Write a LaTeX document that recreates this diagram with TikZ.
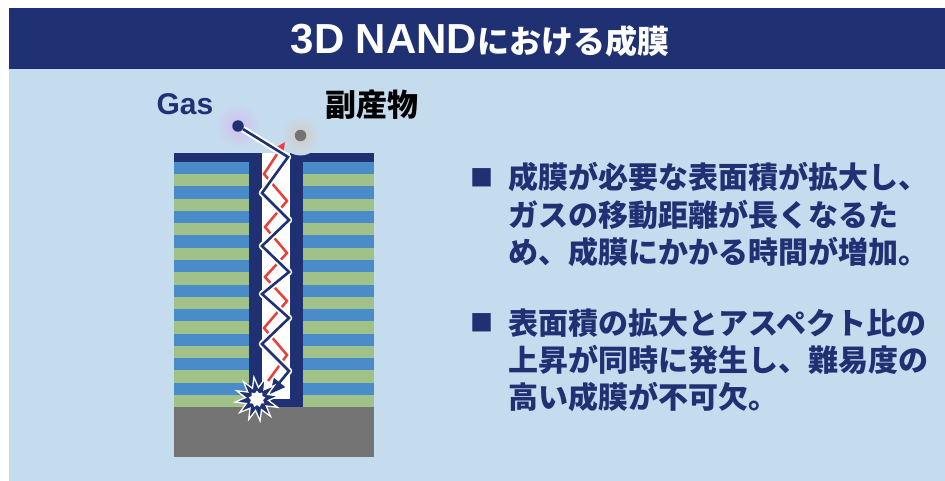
\documentclass[tikz,border=0pt]{standalone}
\usepackage{fontspec}
\setmainfont{Liberation Sans}
\newfontfamily\jp{Noto Sans CJK JP}
\usetikzlibrary{arrows.meta, positioning, shapes.geometric}
\definecolor{navy}{RGB}{31,49,115}
\definecolor{panelblue}{RGB}{197,219,238}
\definecolor{layerblue}{RGB}{74,139,202}
\definecolor{layergreen}{RGB}{160,194,136}
\definecolor{substrate}{RGB}{116,116,116}
\definecolor{flowred}{RGB}{236,62,58}
\definecolor{gasglow}{RGB}{210,190,236}
\definecolor{byglow}{RGB}{210,204,194}

\begin{document}
\begin{tikzpicture}[x=1pt, y=-1pt,
    txt/.style={inner sep=0pt, anchor=base west, text=navy,
      font=\jp\bfseries\fontsize{30}{36}\selectfont},
    bullet/.style={inner sep=0pt, text=navy, font=\jp\fontsize{23}{23}\selectfont},
    dot/.style={circle, inner sep=0pt, minimum size=11.5pt},
    gasline/.style={draw=navy, line width=2.6pt,
      preaction={draw=white, line width=6.5pt, line join=round},
      -{Triangle[length=15pt, width=14pt]}},
    outline/.style={draw=flowred, line width=2.5pt,
      -{Triangle[length=10pt, width=9pt]}}]
  \useasboundingbox (0,0) rectangle (945,481);
  % panel and title bar
  \fill[panelblue] (9,8) rectangle (945,481);
  \fill[navy] (9,8) rectangle (945,69);
  \node[inner sep=0pt, anchor=base, text=white] (title) at (480,54)
    {\bfseries\fontsize{42}{42}\selectfont 3D NAND\jp\fontsize{32}{32}\selectfont における成膜};

  % film stack with the deep hole
  \foreach \i [evaluate=\i as \y using 162+24.5*\i] in {0,...,9} {
    \fill[layerblue] (174,\y) rectangle (374,\y+12.25);
    \fill[layergreen] (174,\y+12.25) rectangle (374,\y+24.5);
  }
  \fill[navy] (174,153) rectangle (374,162);
  \fill[substrate] (174,407) rectangle (374,457);
  \fill[navy] (249,153) rectangle (303,407);
  \fill[white] (262,153) rectangle (290,399);

  % gas and by-product
  \shade[inner color=gasglow, outer color=panelblue] (238,126) circle (22pt);
  \shade[inner color=byglow, outer color=panelblue] (300.5,135.5) circle (20pt);
  \node[dot, fill=navy] (gas) at (238,126) {};
  \node[dot, fill=substrate] (byprod) at (300.5,135.5) {};
  \node[inner sep=0pt, anchor=base, text=navy, font=\bfseries\fontsize{30}{30}\selectfont]
    (gaslbl) at (185,114.5) {Gas};
  \node[inner sep=0pt, anchor=base, font=\jp\bfseries\fontsize{31}{31}\selectfont]
    (bylbl) at (372,117) {副産物};

  % by-product going out, gas going down
  \coordinate (exit) at (285,142);
  \coordinate (hit) at (270,394);
  \draw[outline] (268,381) -- (287,355) -- (264,328) -- (287,301) -- (265,277)
    -- (287,253) -- (265,227) -- (287,201) -- (264,174) -- (exit);
  \draw[gasline] (gas) -- (288,157) -- (262,193) -- (289,220) -- (262,246)
    -- (289,272) -- (262,294) -- (289,318) -- (262,344) -- (289,371) -- (hit);
  \node[star, star points=12, star point ratio=1.9, minimum size=44pt, inner sep=0pt,
    fill=navy, draw=white, line width=1.3pt, rotate=8] (boom) at (257,399) {};
  \node[star, star points=9, star point ratio=1.4, minimum size=17pt, inner sep=0pt,
    fill=white] (flash) at (boom) {};

  % notes
  \node[txt] (a1) at (508,189) {成膜が必要な表面積が拡大し、};
  \node[txt] (a2) at (508,226) {ガスの移動距離が長くなるた};
  \node[txt] (a3) at (508,263) {め、成膜にかかる時間が増加。};
  \node[txt] (b1) at (508,334) {表面積の拡大とアスペクト比の};
  \node[txt] (b2) at (508,371) {上昇が同時に発生し、難易度の};
  \node[txt] (b3) at (508,408) {高い成膜が不可欠。};
  \node[bullet, left=14pt of a1] (m1) {■};
  \node[bullet, left=14pt of b1] (m2) {■};
\end{tikzpicture}
\end{document}
